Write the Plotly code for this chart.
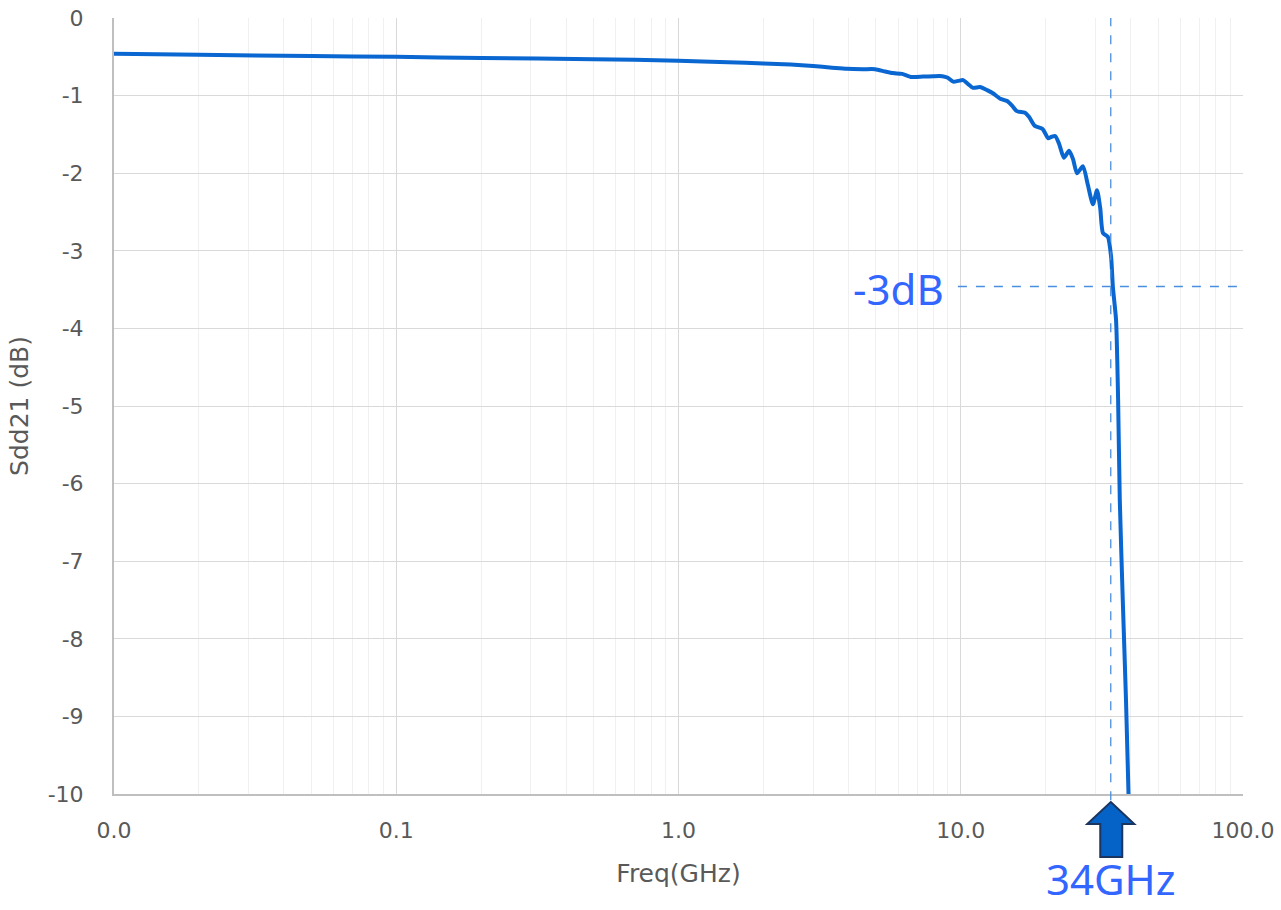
import math
import plotly.graph_objects as go

# Differential insertion loss Sdd21 versus frequency
freq_ghz = [
    0.01, 0.02, 0.05, 0.1, 0.2, 0.5, 1.0, 1.5, 2.0, 2.5, 3.0, 3.5, 3.95, 4.5,
    4.97, 5.4, 5.75, 6.2, 6.7, 7.35, 8.0, 8.6, 9.0, 9.4, 9.8, 10.2, 10.6, 11.05,
    11.7, 12.4, 13.0, 13.8, 14.6, 15.2, 15.8, 16.9, 17.5, 18.3, 19.5, 20.4,
    21.0, 21.6, 22.3, 23.2, 24.2, 25.0, 25.8, 27.1, 28.2, 29.4, 30.4, 31.2,
    31.9, 33.2, 34.1, 34.6, 35.5, 36.1, 36.6, 37.5, 38.5, 39.3,
]
sdd21_db = [
    -0.46, -0.475, -0.49, -0.50, -0.515, -0.53, -0.55, -0.57, -0.585, -0.60,
    -0.62, -0.64, -0.655, -0.66, -0.66, -0.69, -0.71, -0.72, -0.76, -0.755,
    -0.75, -0.75, -0.77, -0.82, -0.81, -0.80, -0.85, -0.90, -0.89, -0.93,
    -0.97, -1.04, -1.07, -1.13, -1.20, -1.22, -1.28, -1.39, -1.43, -1.55,
    -1.53, -1.52, -1.62, -1.80, -1.71, -1.82, -2.00, -1.91, -2.15, -2.40,
    -2.22, -2.45, -2.77, -2.82, -3.08, -3.47, -3.89, -4.92, -6.21, -7.50,
    -8.79, -10.0,
]

x_tick_vals = [0.01, 0.1, 1, 10, 100]
x_tick_text = ["0.0", "0.1", "1.0", "10.0", "100.0"]
y_tick_vals = [0, -1, -2, -3, -4, -5, -6, -7, -8, -9, -10]
y_tick_text = ["0", "-1", "-2", "-3", "-4", "-5", "-6", "-7", "-8", "-9", "-10"]

bandwidth_ghz = 34
level_3db = sdd21_db[0] - 3.0
marker_start_ghz = 9.77

minor_vals = [m * 10 ** e for e in range(-2, 2) for m in range(2, 10)]

tick_font = dict(family="DejaVu Sans", size=22, color="#595959")
title_font = dict(family="DejaVu Sans", size=25, color="#595959")
note_font = dict(family="Noto Sans", size=42, color="#3366FF")
dash_color = "#4A8EE0"

fig = go.Figure()
fig.add_trace(go.Scatter(
    x=freq_ghz, y=sdd21_db, mode="lines",
    line=dict(color="#0A66D0", width=4, shape="spline", smoothing=0.6),
    showlegend=False, cliponaxis=True,
))

shapes = [
    # -3 dB reference level
    dict(type="line", xref="x", yref="y",
         x0=marker_start_ghz, x1=100, y0=level_3db, y1=level_3db,
         line=dict(color=dash_color, width=1.3, dash="dash")),
    # bandwidth marker
    dict(type="line", xref="x", yref="paper",
         x0=bandwidth_ghz, x1=bandwidth_ghz, y0=-0.008, y1=1,
         line=dict(color=dash_color, width=1.3, dash="dash")),
    # block arrow under the axis pointing at the bandwidth
    dict(type="path", xref="x", yref="paper",
         xsizemode="pixel", ysizemode="pixel",
         xanchor=bandwidth_ghz, yanchor=0,
         path="M 0,-8 L 23.5,-30 L 11.5,-30 L 11.5,-63 L -10.5,-63 L -10.5,-30 L -23.5,-30 Z",
         fillcolor="#0563C8", line=dict(color="#1B3560", width=2), layer="above"),
]

annotations = [
    dict(text="-3dB", xref="paper", yref="y", x=(946 - 114) / 1129, y=level_3db,
         xanchor="right", yanchor="middle", showarrow=False, font=note_font, yshift=-2),
    dict(text=f"{bandwidth_ghz}GHz", xref="x", yref="paper", x=math.log10(bandwidth_ghz),
         y=-0.1485, xanchor="center", yanchor="bottom", showarrow=False, font=note_font),
]

fig.update_layout(
    width=1281, height=910,
    margin=dict(l=114, r=38, t=18, b=116),
    paper_bgcolor="white", plot_bgcolor="white",
    shapes=shapes, annotations=annotations,
    xaxis=dict(
        type="log", range=[-2, 2], automargin=False,
        tickvals=x_tick_vals, ticktext=x_tick_text, tickfont=tick_font,
        ticks="", ticklabelstandoff=16,
        showgrid=True, gridcolor="#D9D9D9", gridwidth=1.3,
        minor=dict(tickvals=minor_vals, showgrid=True, gridcolor="#F0F0F0", gridwidth=1.3, ticks=""),
        showline=True, linecolor="#BFBFBF", linewidth=2,
        zeroline=False,
        title=dict(text="Freq(GHz)", font=title_font, standoff=22),
    ),
    yaxis=dict(
        range=[-10, 0], automargin=False,
        tickvals=y_tick_vals, ticktext=y_tick_text, tickfont=tick_font,
        ticks="", ticklabelstandoff=24,
        showgrid=True, gridcolor="#D9D9D9", gridwidth=1.3,
        showline=True, linecolor="#BFBFBF", linewidth=2,
        zeroline=False,
        title=dict(text="Sdd21 (dB)", font=title_font, standoff=12),
    ),
)

fig.write_html("out.html")
